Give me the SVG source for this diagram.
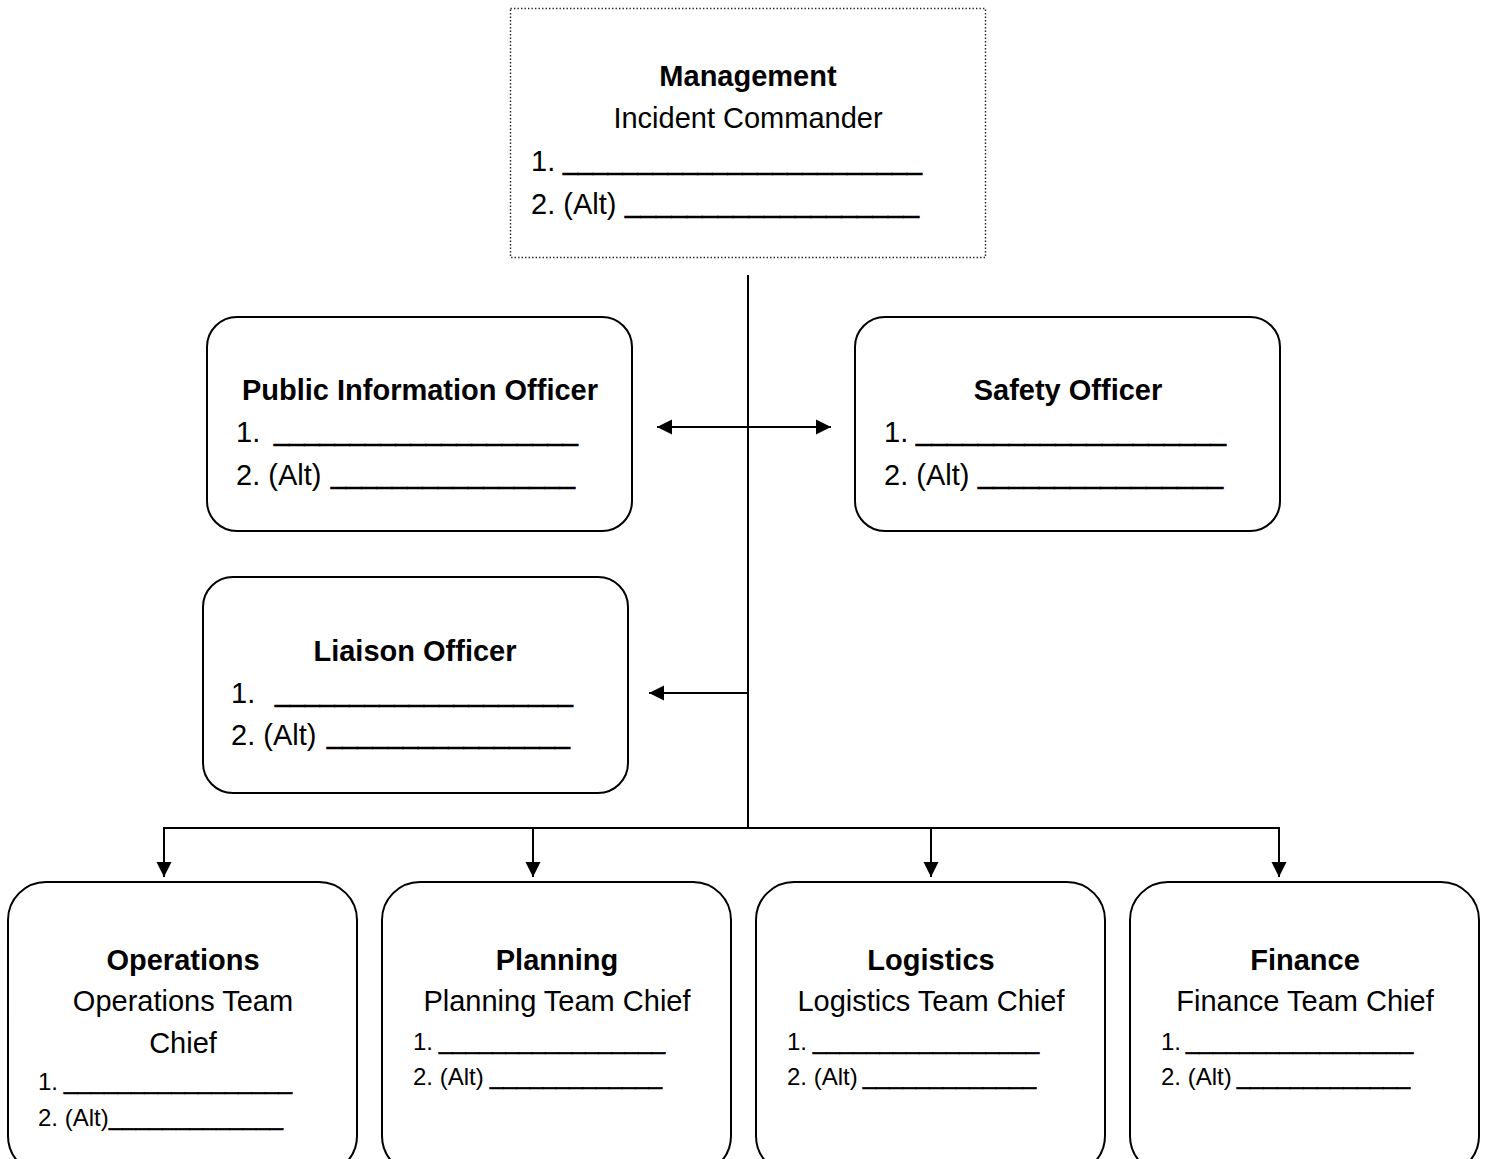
<svg xmlns="http://www.w3.org/2000/svg" width="1487" height="1159" viewBox="0 0 1487 1159">
  <style>
    .box { fill: #ffffff; stroke: #000000; stroke-width: 2; }
    .dotted { fill: #ffffff; stroke: #222222; stroke-width: 1.4; stroke-dasharray: 1.4 2.1; }
    .t { font-family: "Liberation Sans", Arial, sans-serif; font-size: 29px; fill: #000000; }
    .s { font-family: "Liberation Sans", Arial, sans-serif; font-size: 24px; fill: #000000; }
    .b { font-weight: bold; }
    .c { text-anchor: middle; }
    .u { stroke: #000000; stroke-width: 0.7; }
    .line { fill: none; stroke: #000000; stroke-width: 2; }
  </style>
  <defs>
    <marker id="arrow" markerUnits="userSpaceOnUse" markerWidth="18" markerHeight="18" refX="15" refY="9" orient="auto-start-reverse">
      <path d="M0,1.5 L15,9 L0,16.5 z" fill="#000000"/>
    </marker>
  </defs>

  <rect x="0" y="0" width="1487" height="1159" fill="#ffffff"/>

  <!-- connectors -->
  <g id="connectors">
    <line class="line" x1="748" y1="275" x2="748" y2="829"/>
    <line class="line" x1="657" y1="427" x2="831" y2="427" marker-start="url(#arrow)" marker-end="url(#arrow)"/>
    <line class="line" x1="748" y1="693" x2="649" y2="693" marker-end="url(#arrow)"/>
    <line class="line" x1="163" y1="828" x2="1280" y2="828"/>
    <line class="line" x1="164" y1="828" x2="164" y2="877" marker-end="url(#arrow)"/>
    <line class="line" x1="533" y1="828" x2="533" y2="877" marker-end="url(#arrow)"/>
    <line class="line" x1="931" y1="828" x2="931" y2="877" marker-end="url(#arrow)"/>
    <line class="line" x1="1279" y1="828" x2="1279" y2="877" marker-end="url(#arrow)"/>
  </g>

  <!-- incident command -->
  <g id="management">
    <rect class="dotted" x="510.5" y="8.5" width="475" height="249"/>
    <text class="t b c" x="748" y="86">Management</text>
    <text class="t c" x="748" y="128">Incident Commander</text>
    <text class="t" x="531" y="171">1.</text>
    <text class="t u" x="563" y="169" textLength="359" lengthAdjust="spacingAndGlyphs">________________________</text>
    <text class="t" x="531" y="214">2. (Alt)</text>
    <text class="t u" x="625" y="212" textLength="294" lengthAdjust="spacingAndGlyphs">___________________</text>
  </g>

  <g id="public-information-officer">
    <rect class="box" x="207" y="317" width="425" height="214" rx="30" ry="30"/>
    <text class="t b c" x="420" y="400">Public Information Officer</text>
    <text class="t" x="236" y="442">1.</text>
    <text class="t u" x="274" y="440" textLength="304" lengthAdjust="spacingAndGlyphs">____________________</text>
    <text class="t" x="236" y="485">2. (Alt)</text>
    <text class="t u" x="331" y="483" textLength="244" lengthAdjust="spacingAndGlyphs">________________</text>
  </g>

  <g id="safety-officer">
    <rect class="box" x="855" y="317" width="425" height="214" rx="30" ry="30"/>
    <text class="t b c" x="1068" y="400">Safety Officer</text>
    <text class="t" x="884" y="442">1.</text>
    <text class="t u" x="916" y="440" textLength="310" lengthAdjust="spacingAndGlyphs">____________________</text>
    <text class="t" x="884" y="485">2. (Alt)</text>
    <text class="t u" x="978" y="483" textLength="245" lengthAdjust="spacingAndGlyphs">________________</text>
  </g>

  <g id="liaison-officer">
    <rect class="box" x="203" y="577" width="425" height="216" rx="30" ry="30"/>
    <text class="t b c" x="415" y="661">Liaison Officer</text>
    <text class="t" x="231" y="703">1.</text>
    <text class="t u" x="275" y="701" textLength="298" lengthAdjust="spacingAndGlyphs">____________________</text>
    <text class="t" x="231" y="745">2. (Alt)</text>
    <text class="t u" x="327" y="743" textLength="243" lengthAdjust="spacingAndGlyphs">________________</text>
  </g>

  <!-- sections -->
  <g id="operations">
    <rect class="box" x="8" y="882" width="349" height="292" rx="38" ry="38"/>
    <text class="t b c" x="183" y="970">Operations</text>
    <text class="t c" x="183" y="1011">Operations Team</text>
    <text class="t c" x="183" y="1053">Chief</text>
    <text class="s" x="38" y="1090">1.</text>
    <text class="s u" x="64" y="1089" textLength="228" lengthAdjust="spacingAndGlyphs">_________________</text>
    <text class="s" x="38" y="1126">2. (Alt)</text>
    <text class="s u" x="109" y="1125" textLength="174" lengthAdjust="spacingAndGlyphs">_____________</text>
  </g>

  <g id="planning">
    <rect class="box" x="382" y="882" width="349" height="292" rx="38" ry="38"/>
    <text class="t b c" x="557" y="970">Planning</text>
    <text class="t c" x="557" y="1011">Planning Team Chief</text>
    <text class="s" x="413" y="1050">1.</text>
    <text class="s u" x="439" y="1049" textLength="226" lengthAdjust="spacingAndGlyphs">_________________</text>
    <text class="s" x="413" y="1085">2. (Alt)</text>
    <text class="s u" x="490" y="1084" textLength="172" lengthAdjust="spacingAndGlyphs">_____________</text>
  </g>

  <g id="logistics">
    <rect class="box" x="756" y="882" width="349" height="292" rx="38" ry="38"/>
    <text class="t b c" x="931" y="970">Logistics</text>
    <text class="t c" x="931" y="1011">Logistics Team Chief</text>
    <text class="s" x="787" y="1050">1.</text>
    <text class="s u" x="813" y="1049" textLength="226" lengthAdjust="spacingAndGlyphs">_________________</text>
    <text class="s" x="787" y="1085">2. (Alt)</text>
    <text class="s u" x="863" y="1084" textLength="173" lengthAdjust="spacingAndGlyphs">_____________</text>
  </g>

  <g id="finance">
    <rect class="box" x="1130" y="882" width="349" height="292" rx="38" ry="38"/>
    <text class="t b c" x="1305" y="970">Finance</text>
    <text class="t c" x="1305" y="1011">Finance Team Chief</text>
    <text class="s" x="1161" y="1050">1.</text>
    <text class="s u" x="1186" y="1049" textLength="227" lengthAdjust="spacingAndGlyphs">_________________</text>
    <text class="s" x="1161" y="1085">2. (Alt)</text>
    <text class="s u" x="1237" y="1084" textLength="173" lengthAdjust="spacingAndGlyphs">_____________</text>
  </g>
</svg>
